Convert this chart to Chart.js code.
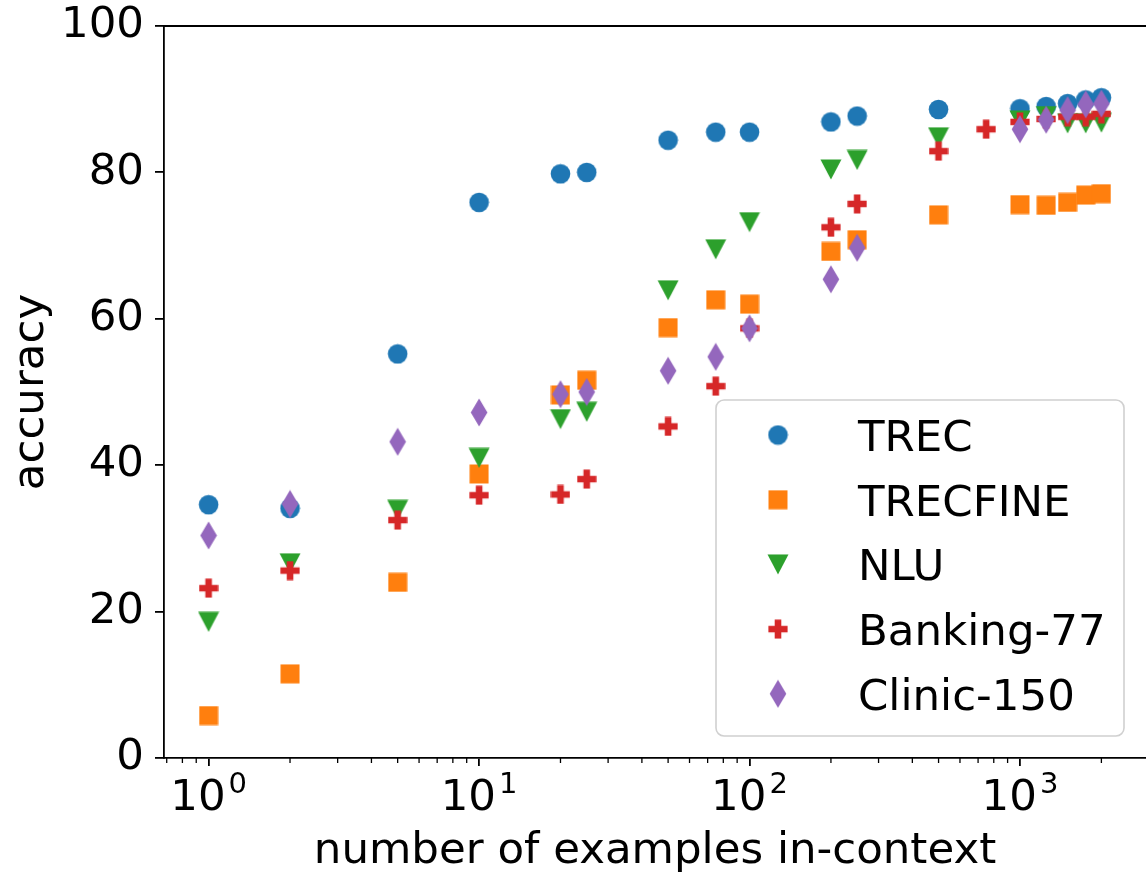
<!DOCTYPE html>
<html>
<head>
<meta charset="utf-8">
<script src="https://cdn.jsdelivr.net/npm/chart.js@4"></script>
<style>
  html, body { margin: 0; padding: 0; background: #fff; overflow: hidden; }
  #accChart { display: block; }
</style>
</head>
<body>
<canvas id="accChart" width="1146" height="874"></canvas>
<script>
// number of in-context examples (x values)
const shots = [1, 2, 5, 10, 20, 25, 50, 75, 100, 200, 250, 500, 750, 1000, 1250, 1500, 1750, 2000];

// accuracy per dataset, null where no point was plotted
const trec     = [34.6, 34.1, 55.2, 75.9, 79.8, 80.0, 84.4, 85.5, 85.5, 86.9, 87.7, 88.6, null, 88.7, 89.0, 89.4, 89.9, 90.2];
const trecfine = [5.8, 11.5, 24.0, 38.8, 49.6, 51.6, 58.8, 62.6, 62.0, 69.2, 70.8, 74.2, null, 75.6, 75.5, 75.9, 76.9, 77.1];
const nlu      = [18.6, 26.6, 33.9, 41.0, 46.3, 47.3, 63.9, 69.5, 73.2, 80.4, 81.7, 84.8, null, 87.1, 87.7, 86.7, 86.7, 86.8];
const banking  = [23.2, 25.6, 32.5, 35.9, 36.0, 38.1, 45.3, 50.8, 58.7, 72.5, 75.7, 82.9, 85.9, 86.9, 87.3, 87.6, 87.6, 88.0];
const clinic   = [30.4, 34.7, 43.2, 47.2, 49.7, 50.0, 52.9, 54.8, 58.7, 65.4, 69.7, null, null, 85.9, 87.2, 88.5, 89.3, 89.4];

const seriesNames = ['TREC', 'TRECFINE', 'NLU', 'Banking-77', 'Clinic-150'];

// axis ticks
const yTicks = [0, 20, 40, 60, 80, 100];
const xMajor = [1, 10, 100, 1000];
const xExponents = ['0', '1', '2', '3'];
const xMinor = [0.7, 0.8, 0.9, 2, 3, 4, 5, 6, 7, 8, 9, 20, 30, 40, 50, 60, 70, 80, 90,
                200, 300, 400, 500, 600, 700, 800, 900, 2000];

const FONT = "'DejaVu Sans', sans-serif";
const FS = 43.5;

// matplotlib-like marker images
function makeMarker(shape, color) {
    const c = document.createElement('canvas');
    const dims = {
        circle: [21, 21], square: [20, 20], tri: [22, 21], plus: [20, 20], diamond: [18, 29]
    }[shape];
    c.width = dims[0];
    c.height = dims[1];
    const g = c.getContext('2d');
    const cx = c.width / 2, cy = c.height / 2;
    g.fillStyle = color;
    g.beginPath();
    if (shape === 'circle') {
        g.arc(cx, cy, 9.8, 0, Math.PI * 2);
    } else if (shape === 'square') {
        g.rect(cx - 9.5, cy - 9.5, 19, 19);
    } else if (shape === 'tri') {
        g.moveTo(cx - 10.5, cy - 10);
        g.lineTo(cx + 10.5, cy - 10);
        g.lineTo(cx, cy + 10);
        g.closePath();
    } else if (shape === 'plus') {
        const s = 9.6, a = 3.3;
        g.moveTo(cx - a, cy - s); g.lineTo(cx + a, cy - s); g.lineTo(cx + a, cy - a);
        g.lineTo(cx + s, cy - a); g.lineTo(cx + s, cy + a); g.lineTo(cx + a, cy + a);
        g.lineTo(cx + a, cy + s); g.lineTo(cx - a, cy + s); g.lineTo(cx - a, cy + a);
        g.lineTo(cx - s, cy + a); g.lineTo(cx - s, cy - a); g.lineTo(cx - a, cy - a);
        g.closePath();
    } else if (shape === 'diamond') {
        g.moveTo(cx, cy - 14); g.lineTo(cx + 8.3, cy); g.lineTo(cx, cy + 14); g.lineTo(cx - 8.3, cy);
        g.closePath();
    }
    g.fill();
    return c;
}

const colors = ['#1f77b4', '#ff7f0e', '#2ca02c', '#d62728', '#9467bd'];
const shapes = ['circle', 'square', 'tri', 'plus', 'diamond'];
const markers = shapes.map((s, i) => makeMarker(s, colors[i]));
const allSeries = [trec, trecfine, nlu, banking, clinic];

function toPoints(values) {
    return shots.map((x, i) => ({ x: x, y: values[i] })).filter(p => p.y !== null);
}

// spines, minor ticks and mathtext-style x labels
const axesExtras = {
    id: 'axesExtras',
    afterDraw(chart) {
        const { ctx, chartArea: a } = chart;
        const xs = chart.scales.x;
        ctx.save();
        ctx.strokeStyle = '#000';
        ctx.lineWidth = 1.8;
        ctx.beginPath();
        ctx.moveTo(a.left - 0.9, a.top);
        ctx.lineTo(a.right, a.top);
        ctx.stroke();

        ctx.lineWidth = 1.3;
        xMinor.forEach(v => {
            const px = xs.getPixelForValue(v);
            if (px < a.left || px > a.right) return;
            ctx.beginPath();
            ctx.moveTo(px, a.bottom);
            ctx.lineTo(px, a.bottom + 5);
            ctx.stroke();
        });

        ctx.fillStyle = '#000';
        ctx.textBaseline = 'alphabetic';
        ctx.textAlign = 'left';
        xMajor.forEach((v, i) => {
            const px = xs.getPixelForValue(v);
            ctx.font = FS + 'px ' + FONT;
            const wBase = ctx.measureText('10').width;
            ctx.font = '29px ' + FONT;
            const wExp = ctx.measureText(xExponents[i]).width;
            const left = px - (wBase + wExp + 3) / 2;
            ctx.font = FS + 'px ' + FONT;
            ctx.fillText('10', left, a.bottom + 52);
            ctx.font = '29px ' + FONT;
            ctx.fillText(xExponents[i], left + wBase + 3, a.bottom + 35);
        });
        ctx.restore();
    }
};

// legend box drawn inside the axes, lower right
const boxLegend = {
    id: 'boxLegend',
    afterDraw(chart) {
        const { ctx, chartArea: a } = chart;
        const right = a.right - 22, bottom = a.bottom - 22;
        const left = right - 408, top = bottom - 336;
        ctx.save();
        ctx.beginPath();
        ctx.roundRect(left, top, right - left, bottom - top, 8);
        ctx.fillStyle = 'rgba(255,255,255,0.8)';
        ctx.fill();
        ctx.strokeStyle = '#d0d0d0';
        ctx.lineWidth = 1.6;
        ctx.stroke();

        ctx.font = FS + 'px ' + FONT;
        ctx.fillStyle = '#000';
        ctx.textAlign = 'left';
        ctx.textBaseline = 'alphabetic';
        chart.data.datasets.forEach((ds, i) => {
            const rowY = top + 35 + i * 64.7;
            const m = ds.pointStyle;
            ctx.drawImage(m, left + 62 - m.width / 2, rowY - m.height / 2);
            ctx.fillText(ds.label, left + 142, rowY + 16);
        });
        ctx.restore();
    }
};

const ctx = document.getElementById('accChart').getContext('2d');
new Chart(ctx, {
    type: 'scatter',
    data: {
        datasets: seriesNames.map((name, i) => ({
            label: name,
            data: toPoints(allSeries[i]),
            pointStyle: markers[i],
            backgroundColor: colors[i],
            borderColor: colors[i],
            pointRadius: 10,
            order: seriesNames.length - i
        }))
    },
    options: {
        responsive: false,
        devicePixelRatio: 1,
        animation: false,
        events: [],
        layout: { autoPadding: false, padding: { top: 26, right: 0, bottom: 0, left: 0 } },
        plugins: {
            legend: { display: false },
            tooltip: { enabled: false }
        },
        scales: {
            x: {
                type: 'logarithmic',
                min: 0.684,
                max: 2924,
                afterBuildTicks: scale => { scale.ticks = xMajor.map(v => ({ value: v })); },
                afterFit: scale => {
                    scale.height = 116;
                    scale.paddingLeft = 0;
                    scale.paddingRight = 0;
                },
                ticks: { callback: () => '', font: { family: FONT, size: FS } },
                grid: { drawOnChartArea: false, drawTicks: true, tickLength: 8, color: '#000', lineWidth: 1.8 },
                border: { display: true, color: '#000', width: 1.8 },
                title: {
                    display: true,
                    text: 'number of examples in-context',
                    color: '#000',
                    font: { family: FONT, size: FS, lineHeight: 1 },
                    padding: { top: 0, bottom: 1 }
                }
            },
            y: {
                min: 0,
                max: 100,
                afterBuildTicks: scale => { scale.ticks = yTicks.map(v => ({ value: v })); },
                afterFit: scale => {
                    scale.width = 164;
                    scale.paddingTop = 0;
                    scale.paddingBottom = 0;
                },
                ticks: { color: '#000', padding: 11, font: { family: FONT, size: FS } },
                grid: { drawOnChartArea: false, drawTicks: true, tickLength: 9, color: '#000', lineWidth: 1.8 },
                border: { display: true, color: '#000', width: 1.8 },
                title: {
                    display: true,
                    text: 'accuracy',
                    color: '#000',
                    font: { family: FONT, size: FS, lineHeight: 1 },
                    padding: { top: 10, bottom: 0 }
                }
            }
        }
    },
    plugins: [axesExtras, boxLegend]
});
</script>
</body>
</html>
